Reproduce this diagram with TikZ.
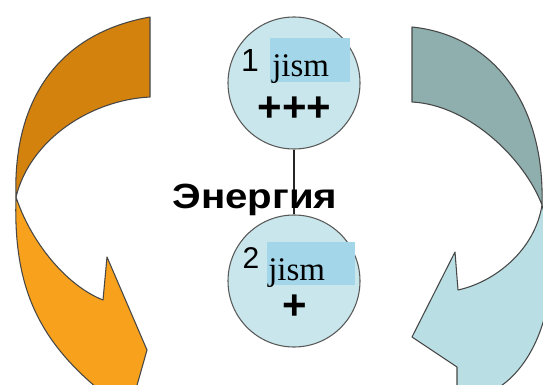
\documentclass[tikz,border=0pt]{standalone}
\usepackage{fontspec}
\setmainfont{Liberation Serif}
\newfontfamily\arialish{Liberation Sans}
\begin{document}
\begin{tikzpicture}[x=0.75pt,y=-0.75pt,
  outline/.style={draw=black!72,line width=0.8pt,line join=round},
  ball/.style={circle,draw=black!65,line width=0.8pt,fill=ballblue,minimum size=99pt,inner sep=0pt},
  mark box/.style={fill=markblue,draw=none},
  digit/.style={font=\arialish\fontsize{24pt}{24pt}\selectfont,inner sep=0pt,anchor=base},
  word/.style={font=\fontsize{24.75pt}{25pt}\selectfont,inner sep=0pt,anchor=base west},
  charge/.style={font=\arialish\bfseries\fontsize{31.5pt}{32pt}\selectfont,inner sep=0pt,anchor=base},
]
\definecolor{ballblue}{HTML}{C8E6EB}
\definecolor{markblue}{HTML}{A3D6E8}
\definecolor{orangedark}{HTML}{D4820E}
\definecolor{orangelight}{HTML}{F8A11D}
\definecolor{tealdark}{HTML}{8EAFAE}
\definecolor{teallight}{HTML}{B9DEE3}

\useasboundingbox (0,0) rectangle (543,385);
\fill[white] (0,0) rectangle (543,385);

\begin{scope}
  \clip (0,0) rectangle (543,385);
  % left curved arrow: upper (back) band
  \draw[outline,fill=orangedark]
    (150,17) -- (150,97)
    .. controls (90,100) and (30,140) .. (16,197)
    .. controls (13,110) and (50,35) .. (150,17) -- cycle;
  % left curved arrow: lower band with head
  \draw[outline,fill=orangelight]
    (16,197) .. controls (30,240) and (65,285) .. (103,300)
    -- (107,257) -- (147,350) -- (130,410) -- (112,400)
    .. controls (40,345) and (13,290) .. (16,197) -- cycle;
  % right curved arrow: upper (back) band
  \draw[outline,fill=tealdark]
    (412,27) -- (412,102)
    .. controls (470,105) and (525,160) .. (542,205)
    .. controls (545,100) and (490,35) .. (412,27) -- cycle;
  % right curved arrow: lower band with head
  \draw[outline,fill=teallight]
    (542,205) .. controls (535,250) and (495,282) .. (458,290)
    -- (455,252) -- (412,337) -- (457,367) -- (457,400)
    .. controls (530,400) and (570,300) .. (542,205) -- cycle;
\end{scope}

% the two bodies and their link
\node[ball] (b1) at (294,83) {};
\node[ball] (b2) at (294,281) {};
\draw[line width=1.4pt,black!85] (b1.south) -- (b2.north);

% highlight behind the words
\fill[mark box] (270,38) rectangle (350,82);
\fill[mark box] (267,242) rectangle (355,285);

\node[digit] (n1) at (250,72) {1};
\node[word] (w1) at (272,77) {jism};
\node[charge] (q1) at (294.5,122) {+++};

\node[digit,font=\arialish\fontsize{22.5pt}{23pt}\selectfont] (n2) at (251,268) {2};
\node[word] (w2) at (268,280) {jism};
\node[charge] (q2) at (295,319) {+};

\node[inner sep=0pt,anchor=base,font=\arialish\bfseries\fontsize{26.25pt}{27pt}\selectfont]
  (en) at (255,208) {\scalebox{1.15}[1]{Энергия}};
\end{tikzpicture}
\end{document}
